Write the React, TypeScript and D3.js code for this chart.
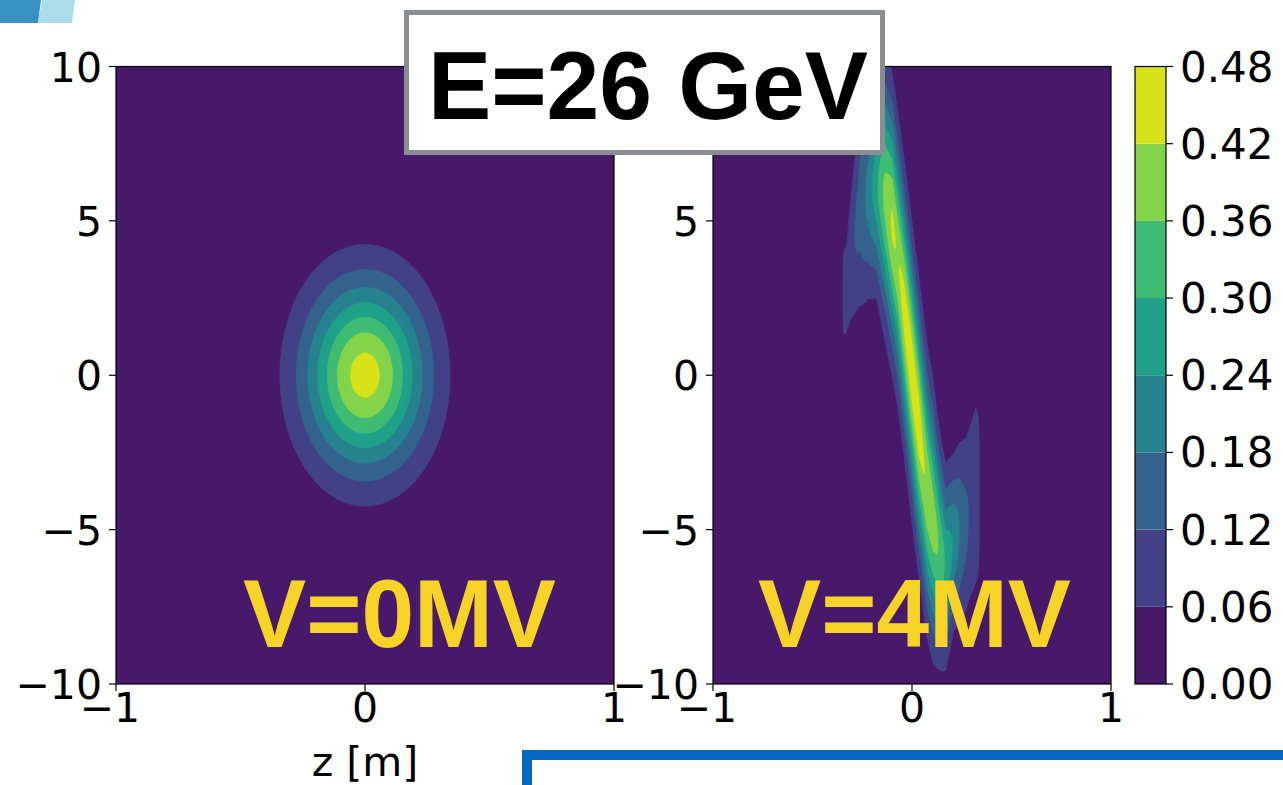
import React from 'react';
import * as d3 from 'd3';

// contour levels shared by both panels and the colorbar
const levels = [0, 0.06, 0.12, 0.18, 0.24, 0.30, 0.36, 0.42, 0.48];
const levelLabels = ['0.00', '0.06', '0.12', '0.18', '0.24', '0.30', '0.36', '0.42', '0.48'];
const zTicks = [-1, 0, 1];
const yTicks = [-10, -5, 0, 5, 10];
const panelTitles = ['V=0MV', 'V=4MV'];

// V=0MV: round bunch (z [m], y), peak value
const bunchCentre = [0, 0];
const bunchSigma = [0.171, 2.12];
const bunchPeak = [0.445];

// V=4MV: filament read column by column along z:
// centre of the band in y, peak value and spread in y at each z
const filZ = [-0.5, -0.4, -0.365, -0.352, -0.345, -0.33, -0.3, -0.26, -0.22, -0.18, -0.14, -0.1, -0.07, -0.035, 0, 0.035, 0.05, 0.075, 0.105, 0.125, 0.15, 0.17, 0.21, 0.25, 0.27, 0.29, 0.32, 0.335, 0.345, 0.36, 0.4, 0.5];
const filY = [2.0, 2.4, 2.6, 2.65, 2.65, 2.8, 4.1, 5.5, 5.9, 6.2, 5.9, 4.9, 3.7, 1.95, 0.1, -1.7, -2.45, -3.7, -4.7, -5.3, -5.9, -6.2, -5.4, -5.0, -4.85, -4.45, -3.9, -3.85, -3.8, -3.7, -3.4, -3.0];
const filPeak = [0, 0, 0, 0.04, 0.078, 0.09, 0.11, 0.145, 0.2, 0.28, 0.37, 0.428, 0.415, 0.445, 0.455, 0.45, 0.43, 0.41, 0.39, 0.37, 0.33, 0.29, 0.23, 0.16, 0.136, 0.115, 0.11, 0.1, 0.03, 0, 0, 0];
const filSpread = [1.85, 1.85, 1.85, 1.85, 1.85, 1.55, 2.0, 2.45, 2.2, 2.1, 2.45, 2.5, 2.45, 2.45, 2.45, 2.45, 2.45, 2.45, 2.4, 2.2, 2.0, 1.9, 1.75, 2.05, 2.19, 2.41, 2.6, 2.5, 2.5, 2.5, 2.5, 2.5];

const W = 1283;
const H = 785;
const TOP = 66.5;
const BOTTOM = 684;
const panels = [
  { x0: 116, x1: 614, nx: 300, ny: 200, labelX: 243 },
  { x0: 713, x1: 1111, nx: 800, ny: 260, labelX: 758 },
];
const cbar = { x0: 1135, x1: 1166 };
const FONT = 'DejaVu Sans, sans-serif';
const BOLD = 'Liberation Sans, Arial, sans-serif';

const bandColor = (k: number) => d3.interpolateViridis((k + 0.5) / (levels.length - 1));

const filCentre = d3.scaleLinear().domain(filZ).range(filY).clamp(true);
const filTop = d3.scaleLinear().domain(filZ).range(filPeak).clamp(true);
const filSig = d3.scaleLinear().domain(filZ).range(filSpread).clamp(true);

const bunch = (z: number, y: number) => {
  const u = (z - bunchCentre[0]) / bunchSigma[0];
  const v = (y - bunchCentre[1]) / bunchSigma[1];
  return bunchPeak[0] * Math.exp(-(u * u + v * v) / 2);
};

const filament = (z: number, y: number) => {
  const p = filTop(z);
  if (p <= 0) return 0;
  const s = filSig(z);
  const d = y - filCentre(z);
  return p * Math.exp(-(d * d) / (2 * s * s));
};

function contourBands(f: (z: number, y: number) => number, nx: number, ny: number) {
  const values: number[] = new Array(nx * ny);
  for (let j = 0; j < ny; j++) {
    const y = 10 - ((j + 0.5) * 20) / ny;
    for (let i = 0; i < nx; i++) {
      const z = -1 + ((i + 0.5) * 2) / nx;
      values[j * nx + i] = f(z, y);
    }
  }
  return d3.contours().size([nx, ny]).thresholds(levels.slice(1, -1))(values);
}

function Panel({ idx, field }: { idx: number; field: (z: number, y: number) => number }) {
  const p = panels[idx];
  const x = d3.scaleLinear().domain([-1, 1]).range([p.x0, p.x1]);
  const y = d3.scaleLinear().domain([-10, 10]).range([BOTTOM, TOP]);
  const bands = React.useMemo(() => contourBands(field, p.nx, p.ny), []);
  const path = d3.geoPath(
    d3.geoTransform({
      point(cx: number, cy: number) {
        this.stream.point(x(-1 + (cx * 2) / p.nx), y(10 - (cy * 20) / p.ny));
      },
    })
  );
  return (
    <g>
      <clipPath id={`clip${idx}`}>
        <rect x={p.x0} y={TOP} width={p.x1 - p.x0} height={BOTTOM - TOP} />
      </clipPath>
      <rect x={p.x0} y={TOP} width={p.x1 - p.x0} height={BOTTOM - TOP} fill={bandColor(0)} />
      <g clipPath={`url(#clip${idx})`}>
        {bands.map((b, k) => (
          <path key={k} d={path(b as any) || ''} fill={bandColor(k + 1)} stroke={bandColor(k + 1)} strokeWidth={0.4} />
        ))}
      </g>
      <rect x={p.x0} y={TOP} width={p.x1 - p.x0} height={BOTTOM - TOP} fill="none" stroke="#000" strokeWidth={1.2} />
      {yTicks.map((t) => (
        <g key={t}>
          <line x1={p.x0 - 7} x2={p.x0} y1={y(t)} y2={y(t)} stroke="#000" strokeWidth={1.2} />
          <text x={p.x0 - 14} y={y(t) + 15} textAnchor="end" fontFamily={FONT} fontSize={41}>
            {t < 0 ? `\u2212${-t}` : t}
          </text>
        </g>
      ))}
      {zTicks.map((t) => (
        <g key={t}>
          <line x1={x(t)} x2={x(t)} y1={BOTTOM} y2={BOTTOM + 7} stroke="#000" strokeWidth={1.2} />
          <text x={x(t) + (t < 0 ? -6 : 0)} y={BOTTOM + 38} textAnchor="middle" fontFamily={FONT} fontSize={41}>
            {t < 0 ? `\u2212${-t}` : t}
          </text>
        </g>
      ))}
      <text x={p.labelX} y={647} fontFamily={BOLD} fontWeight="bold" fontSize={96} fill="#f5d327" textLength={313} lengthAdjust="spacingAndGlyphs">
        {panelTitles[idx]}
      </text>
    </g>
  );
}

function ColorBar() {
  const y = d3.scaleLinear().domain([0, 0.48]).range([BOTTOM, TOP]);
  return (
    <g>
      {levels.slice(0, -1).map((l, k) => (
        <rect key={k} x={cbar.x0} y={y(levels[k + 1])} width={cbar.x1 - cbar.x0} height={y(l) - y(levels[k + 1])} fill={bandColor(k)} />
      ))}
      <rect x={cbar.x0} y={TOP} width={cbar.x1 - cbar.x0} height={BOTTOM - TOP} fill="none" stroke="#000" strokeWidth={1.2} />
      {levels.map((l, k) => (
        <g key={k}>
          <line x1={cbar.x1} x2={cbar.x1 + 7} y1={y(l)} y2={y(l)} stroke="#000" strokeWidth={1.2} />
          <text x={cbar.x1 + 14} y={y(l) + 15} fontFamily={FONT} fontSize={42}>
            {levelLabels[k]}
          </text>
        </g>
      ))}
    </g>
  );
}

export default function App() {
  return (
    <svg width={W} height={H} style={{ position: 'absolute', left: 0, top: 0, background: '#fff' }}>
      <rect width={W} height={H} fill="#fff" />
      {/* slide decoration */}
      <polygon points="0,0 41,0 38,23 0,23" fill="#3792c2" />
      <polygon points="42,0 75,0 72,23 38,23" fill="#acdde9" />
      <Panel idx={0} field={bunch} />
      <Panel idx={1} field={filament} />
      <ColorBar />
      <text x={365} y={776} textAnchor="middle" fontFamily={FONT} fontSize={41}>
        z [m]
      </text>
      {/* title box */}
      <rect x={406.5} y={12.5} width={476} height={140} fill="#fff" stroke="#8b8e91" strokeWidth={5} />
      <text x={648} y={119} textAnchor="middle" fontFamily={BOLD} fontWeight="bold" fontSize={97} textLength={440} lengthAdjust="spacingAndGlyphs">
        E=26 GeV
      </text>
      {/* blue frame of the next slide element */}
      <rect x={527} y={755} width={800} height={100} fill="none" stroke="#0767c1" strokeWidth={10} />
    </svg>
  );
}
